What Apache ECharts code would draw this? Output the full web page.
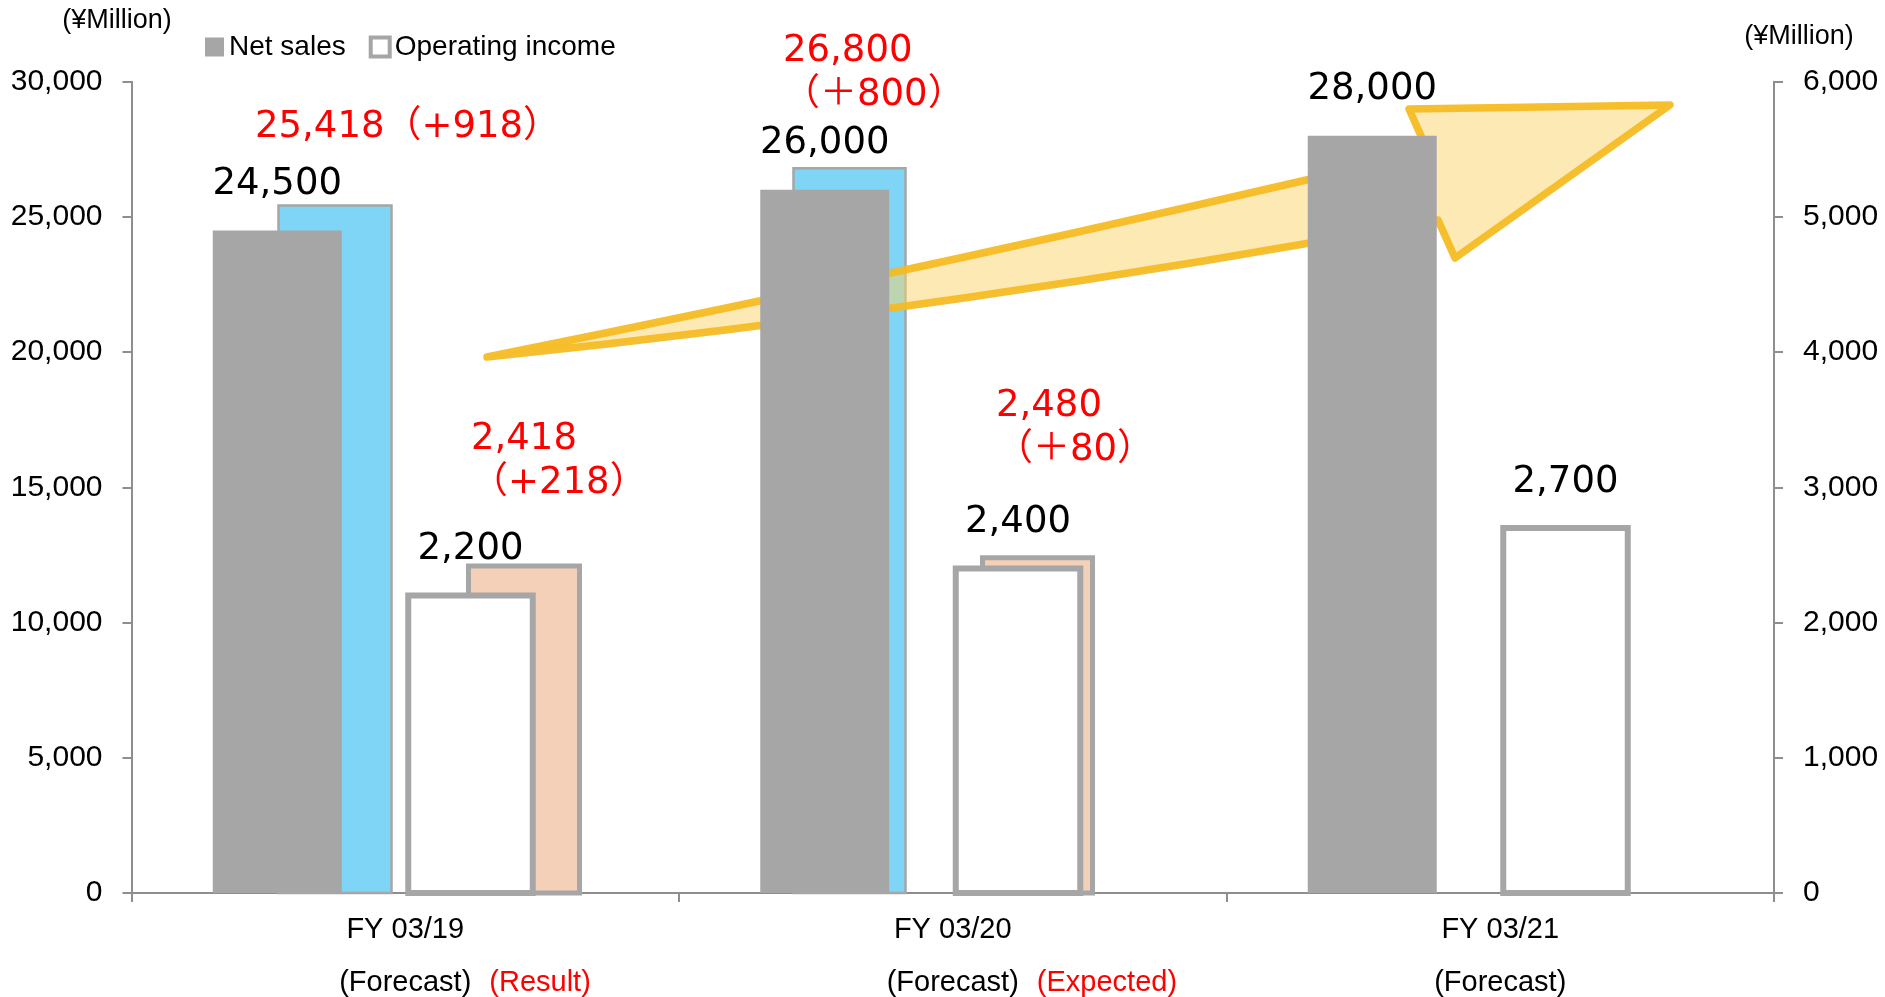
<!DOCTYPE html>
<html>
<head>
<meta charset="utf-8">
<script src="https://cdn.jsdelivr.net/npm/echarts@6/dist/echarts.min.js"></script>
<style>
html,body{margin:0;padding:0;background:#fff;}
#chart{width:1885px;height:997px;}
</style>
</head>
<body>
<div id="chart"></div>
<script>
// ---------------- data ----------------
const categories = ['FY 03/19', 'FY 03/20', 'FY 03/21'];
const forecastNotes = ['(Forecast)', '(Forecast)', '(Forecast)'];
const statusNotes = ['(Result)', '(Expected)', ''];
const netSalesForecast = [24500, 26000, 28000];
const netSalesActual = [25418, 26800, null];
const opIncomeForecast = [2200, 2400, 2700];
const opIncomeActual = [2418, 2480, null];
const leftTicks = [0, 5000, 10000, 15000, 20000, 25000, 30000];
const rightTicks = [0, 1000, 2000, 3000, 4000, 5000, 6000];
const unitLabel = '(¥Million)';

// ---------------- styles / layout ----------------
const FONT_VAL = '"DejaVu Sans", "Noto Sans CJK JP", sans-serif';
const FONT_AX = '"Liberation Sans", Arial, sans-serif';
const GRAY = '#A6A6A6', BLUE = '#7FD5F6', PEACH = '#F4D0B9', RED = '#FF0000', AXIS = '#8E8E8E';
const VAL_SIZE = 37;
// bar extents as fractions of the category band, relative to band centre
const netOff = [-0.3516, -0.1160];
const opOff = [0.0055, 0.2329];
const netResOff = [[-0.2315, -0.0251], [-0.2909, -0.0863]];
const opResOff = [[0.1155, 0.3183], [0.0543, 0.2553]];
const netResLab = [{dx: -0.2744, dy: -78, br: false, plus: '+'}, {dx: -0.3100, dy: -95, br: true, plus: '＋'}];
const opResLab = [{dx: 0.1201, dy: -105, br: true, plus: '+'}, {dx: 0.0790, dy: -129, br: true, plus: '＋'}];
const VALUE_LABEL_DY = -46;
// decorative trend arrow anchor points: [cmd, category, band offset, left-axis level, ...]
const ARROW = [
  ['M', 0, 0.1493, 19820],
  ['Q', 1, 0.0078, 23300, 2, -0.132, 27420],
  ['L', 2, -0.1667, 28991],
  ['L', 2, 0.3101, 29139],
  ['L', 2, -0.0827, 23481],
  ['L', 2, -0.1137, 24886],
  ['Q', 1, 0.0169, 21632, 0, 0.1493, 19820],
  ['Z']
];

const fmt = v => v.toLocaleString('en-US');
const toData = arr => arr.map((v, i) => [i, v]).filter(d => d[1] != null);

// text width measurement for the x-axis second line padding
const mctx = document.createElement('canvas').getContext('2d');
mctx.font = '29px "Liberation Sans", Arial, sans-serif';
const NOTE_GAP = 18;
const padWidths = statusNotes.map(s => s ? mctx.measureText(s).width + NOTE_GAP : 0);

function barRender(offFn, style, labelFn) {
  return function (params, api) {
    const i = api.value(0), v = api.value(1);
    const top = api.coord([i, v]);
    const base = api.coord([i, 0]);
    const band = api.size([1, 0])[0];
    const off = offFn(i);
    const x0 = top[0] + off[0] * band, x1 = top[0] + off[1] * band;
    const children = [{
      type: 'rect',
      shape: {x: x0, y: top[1], width: x1 - x0, height: base[1] - top[1]},
      style: style
    }];
    const lab = labelFn ? labelFn(i, v, top, band, x0, x1) : null;
    if (lab) children.push(lab);
    return {type: 'group', children: children};
  };
}

function valueLabel(i, v, top, band, x0, x1) {
  return {
    type: 'text', x: (x0 + x1) / 2, y: top[1] + VALUE_LABEL_DY,
    style: {text: fmt(v), fill: '#000', fontSize: VAL_SIZE, fontFamily: FONT_VAL, align: 'center', verticalAlign: 'middle'}
  };
}

function resultLabel(layout, forecast) {
  return function (i, v, top, band) {
    const L = layout[i];
    const txt = fmt(v) + (L.br ? '\n' : '') + '（' + L.plus + fmt(v - forecast[i]) + '）';
    return {
      type: 'text', x: top[0] + L.dx * band, y: top[1] + L.dy,
      style: {text: txt, fill: RED, fontSize: VAL_SIZE, lineHeight: 44, fontFamily: FONT_VAL, align: 'left', verticalAlign: 'middle'}
    };
  };
}

function arrowRender(params, api) {
  const band = api.size([1, 0])[0];
  const P = (c, f, v) => {
    const x = api.coord([c, 0])[0] + f * band;
    const y = api.coord([0, v])[1];
    return x.toFixed(1) + ' ' + y.toFixed(1);
  };
  let d = '';
  ARROW.forEach(s => {
    if (s[0] === 'Z') d += 'Z';
    else if (s[0] === 'Q') d += 'Q' + P(s[1], s[2], s[3]) + ' ' + P(s[4], s[5], s[6]) + ' ';
    else d += s[0] + P(s[1], s[2], s[3]) + ' ';
  });
  return {
    type: 'path', shape: {pathData: d},
    style: {fill: 'rgba(251,211,105,0.5)', stroke: 'rgba(245,186,30,0.92)', lineWidth: 7.5, lineJoin: 'round'}
  };
}

const chart = echarts.init(document.getElementById('chart'), null, {renderer: 'canvas'});
const axisCommon = {
  axisLine: {show: true, lineStyle: {color: AXIS, width: 2}},
  axisTick: {show: true, length: 9, lineStyle: {color: AXIS, width: 2}},
  splitLine: {show: false},
  axisLabel: {margin: 29, color: '#000', fontSize: 30, fontFamily: FONT_AX, formatter: v => fmt(v)},
  nameLocation: 'end',
};

const rich = {
  a: {fontSize: 29, lineHeight: 53, color: '#000', fontFamily: FONT_AX},
  f: {fontSize: 29, lineHeight: 53, color: '#000', fontFamily: FONT_AX},
  r: {fontSize: 29, lineHeight: 53, color: RED, fontFamily: FONT_AX, padding: [0, 0, 0, NOTE_GAP]}
};
padWidths.forEach((w, i) => { rich['p' + i] = {fontSize: 29, lineHeight: 53, width: w}; });

chart.setOption({
  animation: false,
  backgroundColor: '#fff',
  grid: {left: 131.5, right: 111, top: 81.7, bottom: 104, containLabel: false, outerBoundsMode: 'none'},
  legend: {
    left: 200, top: 28, itemWidth: 19, itemHeight: 19, itemGap: 23, selectedMode: false,
    textStyle: {fontSize: 28, fontFamily: FONT_AX, color: '#000'},
    data: [
      {name: 'Net sales', icon: 'rect', itemStyle: {color: GRAY, borderWidth: 0}},
      {name: 'Operating income', icon: 'rect', itemStyle: {color: '#fff', borderColor: GRAY, borderWidth: 4}}
    ]
  },
  xAxis: {
    type: 'category', data: categories, boundaryGap: true,
    axisLine: {show: true, lineStyle: {color: AXIS, width: 2}},
    axisTick: {show: true, length: 9, interval: 0, alignWithLabel: false, lineStyle: {color: AXIS, width: 2}},
    axisLabel: {
      interval: 0, margin: 10, color: '#000', fontSize: 29, fontFamily: FONT_AX,
      formatter: (val, idx) => {
        let s = '{a|' + val + '}\n';
        if (statusNotes[idx]) s += '{p' + idx + '| }{f|' + forecastNotes[idx] + '}{r|' + statusNotes[idx] + '}';
        else s += '{f|' + forecastNotes[idx] + '}';
        return s;
      },
      rich: rich
    }
  },
  yAxis: [
    Object.assign({}, axisCommon, {
      type: 'value', position: 'left',
      min: leftTicks[0], max: leftTicks[leftTicks.length - 1], interval: leftTicks[1] - leftTicks[0],
      name: unitLabel, nameGap: 48,
      nameTextStyle: {fontSize: 27, fontFamily: FONT_AX, color: '#000', align: 'center', padding: [0, 29, 0, 0]}
    }),
    Object.assign({}, axisCommon, {
      type: 'value', position: 'right',
      min: rightTicks[0], max: rightTicks[rightTicks.length - 1], interval: rightTicks[1] - rightTicks[0],
      name: unitLabel, nameGap: 32,
      nameTextStyle: {fontSize: 27, fontFamily: FONT_AX, color: '#000', align: 'center', padding: [0, 0, 0, 50]}
    })
  ],
  series: [
    {
      type: 'custom', name: 'Net sales (result)', yAxisIndex: 0, z: 1, clip: false,
      data: toData(netSalesActual),
      renderItem: barRender(i => netResOff[i], {fill: BLUE, stroke: GRAY, lineWidth: 2.5}, resultLabel(netResLab, netSalesForecast))
    },
    {
      type: 'custom', name: 'trend', yAxisIndex: 0, z: 5, clip: false, silent: true,
      data: [[0, 0]],
      renderItem: arrowRender
    },
    {
      type: 'custom', name: 'Net sales', yAxisIndex: 0, z: 10, clip: false,
      itemStyle: {color: GRAY},
      data: toData(netSalesForecast),
      renderItem: barRender(() => netOff, {fill: GRAY}, valueLabel)
    },
    {
      type: 'custom', name: 'Operating income (result)', yAxisIndex: 1, z: 8, clip: false,
      data: toData(opIncomeActual),
      renderItem: barRender(i => opResOff[i], {fill: PEACH, stroke: GRAY, lineWidth: 5}, resultLabel(opResLab, opIncomeForecast))
    },
    {
      type: 'custom', name: 'Operating income', yAxisIndex: 1, z: 10, clip: false,
      itemStyle: {color: '#fff', borderColor: GRAY, borderWidth: 4},
      data: toData(opIncomeForecast),
      renderItem: barRender(() => opOff, {fill: '#fff', stroke: GRAY, lineWidth: 6}, valueLabel)
    }
  ]
});
</script>
</body>
</html>
